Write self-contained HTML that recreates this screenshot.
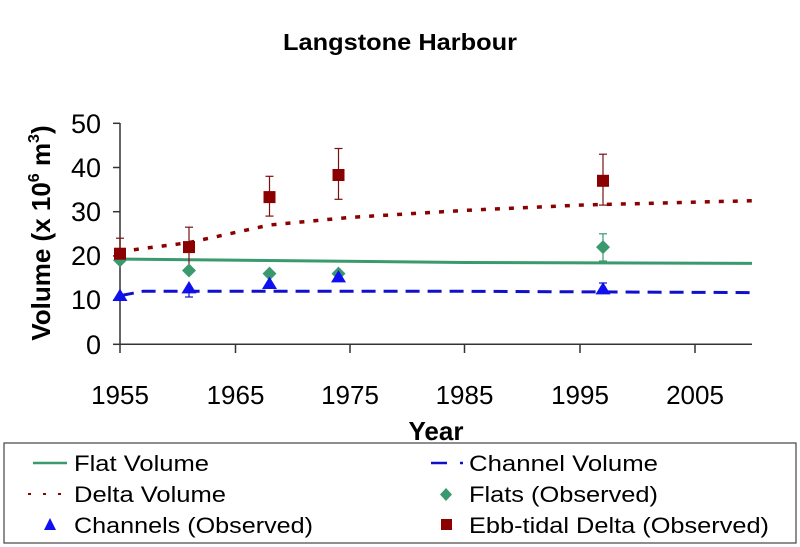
<!DOCTYPE html>
<html><head><meta charset="utf-8"><style>
html,body{margin:0;padding:0;background:#fff}
svg{display:block;font-family:"Liberation Sans",Arial,sans-serif}
</style></head><body>
<svg width="800" height="547" viewBox="0 0 800 547">
<text x="400" y="50" text-anchor="middle" font-size="23" font-weight="bold" textLength="234" lengthAdjust="spacingAndGlyphs">Langstone Harbour</text>
<g stroke="#333" stroke-width="1.5" fill="none">
<line x1="120" y1="123" x2="120" y2="345"/>
<line x1="120" y1="344.3" x2="752" y2="344.3"/>
<line x1="113" y1="123.3" x2="120" y2="123.3"/>
<line x1="113" y1="167.5" x2="120" y2="167.5"/>
<line x1="113" y1="211.7" x2="120" y2="211.7"/>
<line x1="113" y1="255.9" x2="120" y2="255.9"/>
<line x1="113" y1="300.1" x2="120" y2="300.1"/>
<line x1="113" y1="344.3" x2="120" y2="344.3"/>
<line x1="120" y1="344" x2="120" y2="353"/>
<line x1="235.5" y1="344" x2="235.5" y2="353"/>
<line x1="350" y1="344" x2="350" y2="353"/>
<line x1="464.5" y1="344" x2="464.5" y2="353"/>
<line x1="580" y1="344" x2="580" y2="353"/>
<line x1="695" y1="344" x2="695" y2="353"/>
</g>
<g font-size="27" text-anchor="end">
<text x="101" y="133">50</text>
<text x="101" y="177">40</text>
<text x="101" y="221">30</text>
<text x="101" y="265">20</text>
<text x="101" y="309">10</text>
<text x="101" y="354">0</text>
</g>
<g font-size="26" text-anchor="middle">
<text x="120" y="404">1955</text>
<text x="235.5" y="404">1965</text>
<text x="350" y="404">1975</text>
<text x="464.5" y="404">1985</text>
<text x="580" y="404">1995</text>
<text x="695" y="404">2005</text>
</g>
<text x="436" y="440" text-anchor="middle" font-size="26" font-weight="bold">Year</text>
<text transform="translate(50,233) rotate(-90)" text-anchor="middle" font-size="26" font-weight="bold">Volume (x 10<tspan font-size="16" dy="-11">6</tspan><tspan dy="11"> m</tspan><tspan font-size="16" dy="-11">3</tspan><tspan dy="11">)</tspan></text>
<polyline points="120,251.5 189,242.6 269.5,225 350,217.4 465,210.4 580,205.1 752,200.7" fill="none" stroke="#8b0000" stroke-width="3.5" stroke-dasharray="5,9"/>
<polyline points="120,259 465,262.5 752,263.4" fill="none" stroke="#3a9a6e" stroke-width="3"/>
<polyline points="120,295.7 143,291.3 465,291.3 752,292.6" fill="none" stroke="#1010cc" stroke-width="3" stroke-dasharray="14,8"/>
<g stroke="#7a1010" stroke-width="1.2">
<line x1="120" y1="238.2" x2="120" y2="264.7"/><line x1="116" y1="238.2" x2="124" y2="238.2"/>
<line x1="189" y1="227.2" x2="189" y2="264.7"/><line x1="185" y1="227.2" x2="193" y2="227.2"/>
<line x1="269.5" y1="176.3" x2="269.5" y2="216.1"/><line x1="265.5" y1="176.3" x2="273.5" y2="176.3"/><line x1="265.5" y1="216.1" x2="273.5" y2="216.1"/>
<line x1="338.5" y1="148.5" x2="338.5" y2="199.3"/><line x1="334.5" y1="148.5" x2="342.5" y2="148.5"/><line x1="334.5" y1="199.3" x2="342.5" y2="199.3"/>
<line x1="603" y1="154.2" x2="603" y2="205.1"/><line x1="599" y1="154.2" x2="607" y2="154.2"/><line x1="599" y1="205.1" x2="607" y2="205.1"/>
</g>
<g stroke="#3a9a6e" stroke-width="1.2">
<line x1="603" y1="233.8" x2="603" y2="261"/><line x1="599" y1="233.8" x2="607" y2="233.8"/><line x1="599" y1="261" x2="607" y2="261"/>
</g>
<g stroke="#1010cc" stroke-width="1.2">
<line x1="189" y1="282" x2="189" y2="297"/><line x1="185" y1="297" x2="193" y2="297"/>
<line x1="603" y1="283" x2="603" y2="290"/><line x1="599" y1="283" x2="607" y2="283"/>
</g>
<g fill="#3a9a6e">
<polygon points="120,253.3 127,260.3 120,267.3 113,260.3"/>
<polygon points="189,263.5 196,270.5 189,277.5 182,270.5"/>
<polygon points="269.5,266.6 276.5,273.6 269.5,280.6 262.5,273.6"/>
<polygon points="338.5,266.6 345.5,273.6 338.5,280.6 331.5,273.6"/>
<polygon points="603,240.1 610,247.1 603,254.1 596,247.1"/>
</g>
<g fill="#1010ee">
<polygon points="120,288.6 127.5,301 112.5,301"/>
<polygon points="189,281 196.5,293.4 181.5,293.4"/>
<polygon points="269.5,276.6 277,289 262,289"/>
<polygon points="338.5,270 346,282.4 331,282.4"/>
<polygon points="603,282 610.5,294.4 595.5,294.4"/>
</g>
<g fill="#8b0000">
<rect x="114" y="247.7" width="12" height="12"/>
<rect x="183" y="241.1" width="12" height="12"/>
<rect x="263.5" y="191.1" width="12" height="12"/>
<rect x="332.5" y="169" width="12" height="12"/>
<rect x="597" y="174.8" width="12" height="12"/>
</g>
<rect x="4" y="443" width="792" height="100" fill="#fff" stroke="#444" stroke-width="1.2"/>
<line x1="33" y1="463" x2="67" y2="463" stroke="#3a9a6e" stroke-width="2.5"/>
<line x1="431" y1="463" x2="447" y2="463" stroke="#1010cc" stroke-width="2.5"/>
<line x1="460" y1="463" x2="463" y2="463" stroke="#1010cc" stroke-width="2.5"/>
<line x1="28" y1="494" x2="67" y2="494" stroke="#8b0000" stroke-width="2" stroke-dasharray="3,12"/>
<polygon points="446,488 452,494.5 446,501 440,494.5" fill="#3a9a6e"/>
<polygon points="50,518 56,530 44,530" fill="#1010ee"/>
<rect x="441" y="519" width="11" height="11" fill="#8b0000"/>
<g font-size="22">
<text x="74" y="471" textLength="135" lengthAdjust="spacingAndGlyphs">Flat Volume</text>
<text x="74" y="502" textLength="152" lengthAdjust="spacingAndGlyphs">Delta Volume</text>
<text x="74" y="533" textLength="239" lengthAdjust="spacingAndGlyphs">Channels (Observed)</text>
<text x="469" y="471" textLength="189" lengthAdjust="spacingAndGlyphs">Channel Volume</text>
<text x="469" y="502" textLength="189" lengthAdjust="spacingAndGlyphs">Flats (Observed)</text>
<text x="469" y="533" textLength="300" lengthAdjust="spacingAndGlyphs">Ebb-tidal Delta (Observed)</text>
</g>
</svg>
</body></html>
